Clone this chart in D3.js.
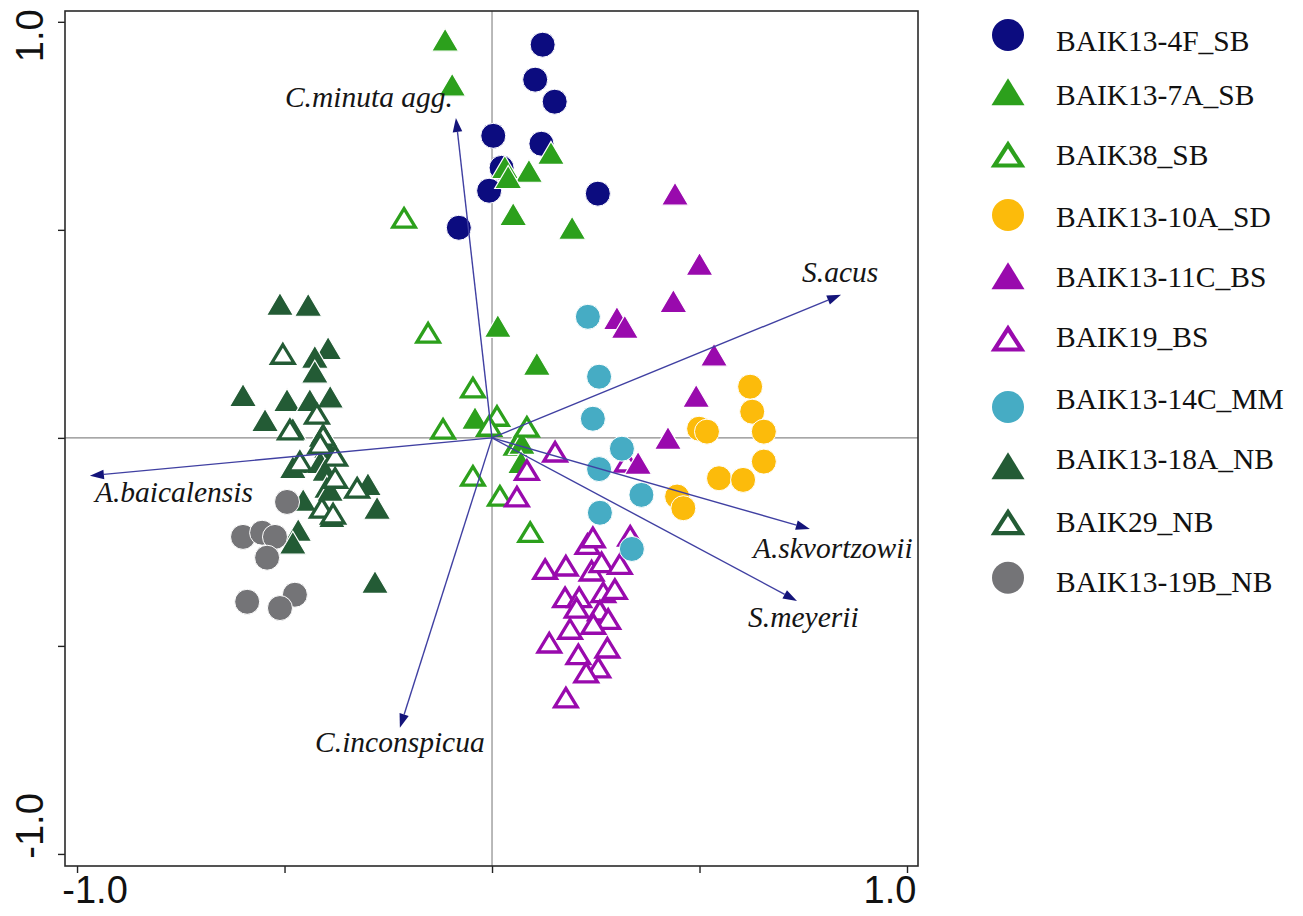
<!DOCTYPE html>
<html>
<head>
<meta charset="utf-8">
<script src="https://cdn.jsdelivr.net/npm/d3@7"></script>
<style>
  body { margin: 0; background: #ffffff; }
  svg { display: block; }
</style>
</head>
<body>
<svg id="chart" width="1303" height="916"></svg>
<script>
// ---------------- DATA ----------------
const groupNames = ["BAIK13-4F_SB", "BAIK13-7A_SB", "BAIK38_SB", "BAIK13-10A_SD", "BAIK13-11C_BS",
                    "BAIK19_BS", "BAIK13-14C_MM", "BAIK13-18A_NB", "BAIK29_NB", "BAIK13-19B_NB"];
const groupShapes = ["circle", "triangle", "open", "circle", "triangle",
                     "open", "circle", "triangle", "open", "circle"];
const groupColors = ["#0c0c7f", "#2ca01c", "#2ca01c", "#fcbb0b", "#990aad",
                     "#990aad", "#46acc4", "#235b35", "#235b35", "#747477"];

const sb4F = [[0.122,0.945],[0.104,0.861],[0.151,0.808],[0.003,0.726],[0.119,0.707],[0.023,0.649],
              [-0.007,0.594],[0.255,0.587],[-0.080,0.505]];
const sb7A = [[-0.113,0.957],[-0.096,0.849],[0.142,0.685],[0.031,0.651],[0.089,0.642],[0.039,0.627],
              [0.051,0.538],[0.193,0.505],[0.014,0.269],[0.108,0.178],[-0.041,0.048],[0.055,-0.017],
              [0.072,-0.012],[0.070,-0.058]];
const baik38 = [[-0.212,0.531],[-0.154,0.255],[-0.046,0.123],[0.012,0.055],[-0.007,0.031],[-0.118,0.024],
                [0.084,0.029],[-0.046,-0.089],[0.019,-0.137],[0.092,-0.224]];
const sd10A = [[0.622,0.123],[0.627,0.063],[0.655,0.015],[0.499,0.022],[0.518,0.015],[0.655,-0.057],
               [0.547,-0.097],[0.605,-0.101],[0.446,-0.141],[0.461,-0.169]];
const bs11C = [[0.441,0.587],[0.500,0.418],[0.437,0.329],[0.301,0.288],[0.320,0.267],[0.535,0.200],
               [0.492,0.101],[0.424,0.000],[0.352,-0.060]];
const baik19 = [[0.152,-0.031],[0.084,-0.075],[0.060,-0.139],[0.325,-0.055],[0.230,-0.253],[0.243,-0.237],
                [0.333,-0.233],[0.128,-0.313],[0.178,-0.305],[0.240,-0.317],[0.264,-0.297],[0.308,-0.301],
                [0.176,-0.381],[0.210,-0.381],[0.268,-0.369],[0.296,-0.361],[0.204,-0.406],[0.260,-0.413],
                [0.280,-0.433],[0.244,-0.445],[0.188,-0.457],[0.138,-0.490],[0.278,-0.502],[0.208,-0.518],
                [0.256,-0.550],[0.227,-0.562],[0.178,-0.622]];
const mm14C = [[0.231,0.291],[0.258,0.147],[0.243,0.046],[0.313,-0.026],[0.258,-0.075],[0.360,-0.137],
               [0.260,-0.180],[0.337,-0.267]];
const nb18A = [[-0.511,0.322],[-0.443,0.320],[-0.395,0.216],[-0.427,0.195],[-0.427,0.159],[-0.600,0.103],
               [-0.494,0.091],[-0.439,0.091],[-0.390,0.099],[-0.547,0.043],[-0.480,0.022],[-0.407,0.012],
               [-0.398,-0.022],[-0.463,-0.058],[-0.480,-0.070],[-0.414,-0.058],[-0.402,-0.077],[-0.398,-0.118],
               [-0.390,-0.125],[-0.299,-0.111],[-0.277,-0.168],[-0.455,-0.149],[-0.386,-0.188],[-0.467,-0.221],
               [-0.480,-0.252],[-0.282,-0.346]];
const baik29 = [[-0.504,0.204],[-0.422,0.060],[-0.487,0.022],[-0.407,0.007],[-0.414,-0.012],[-0.378,-0.041],
                [-0.463,-0.055],[-0.378,-0.094],[-0.325,-0.118],[-0.410,-0.166],[-0.383,-0.180]];
const nb19B = [[-0.494,-0.154],[-0.600,-0.238],[-0.554,-0.228],[-0.523,-0.238],[-0.542,-0.288],[-0.590,-0.394],
               [-0.475,-0.377],[-0.511,-0.409]];
const groupData = [sb4F, sb7A, baik38, sd10A, bs11C, baik19, mm14C, nb18A, baik29, nb19B];

const speciesNames = ["C.minuta agg.", "S.acus", "A.baicalensis", "A.skvortzowii", "S.meyerii", "C.inconspicua"];
const speciesX = [-0.087, 0.841, -0.969, 0.766, 0.735, -0.222];
const speciesY = [0.769, 0.344, -0.091, -0.219, -0.392, -0.697];

const xTickValues = [-1, -0.5, 0, 0.5, 1];
const yTickValues = [-1, -0.5, 0, 0.5, 1];
const xTickLabels = ["-1.0", "", "", "", "1.0"];
const yTickLabels = ["-1.0", "", "", "", "1.0"];

// ---------------- LAYOUT ----------------
const drawOrder = [0, 1, 2, 5, 4, 6, 3, 7, 8, 9];
const labelLayout = [ // dx, dy, anchor relative to arrow tip
  {dx: -3, dy: -11, anchor: "end"},
  {dx: -39, dy: -13, anchor: "start"},
  {dx: 5, dy: 26, anchor: "start"},
  {dx: -57, dy: 29, anchor: "start"},
  {dx: -49, dy: 26, anchor: "start"},
  {dx: 0, dy: 24, anchor: "middle"}
];
const legendTextY = [41, 94.7, 155, 216.7, 277, 337, 399, 459, 522, 581.7];
const legendMarkY = [35, 91.7, 154, 215, 275.7, 338, 407, 465.7, 521.7, 577.7];

const svg = d3.select("#chart");
const x = d3.scaleLinear().domain([-1.029, 1.0265]).range([65, 918]);
const y = d3.scaleLinear().domain([-1.029, 1.026]).range([866, 11]);

// zero lines
svg.append("line").attr("x1", x(0)).attr("x2", x(0)).attr("y1", y.range()[1]).attr("y2", y.range()[0])
  .attr("stroke", "#8a8a8a").attr("stroke-width", 1.2);
svg.append("line").attr("x1", x.range()[0]).attr("x2", x.range()[1]).attr("y1", y(0)).attr("y2", y(0))
  .attr("stroke", "#8a8a8a").attr("stroke-width", 1.2);

// axes (ticks only)
const xAxis = svg.append("g").attr("transform", `translate(0,${y.range()[0]})`)
  .call(d3.axisBottom(x).tickValues(xTickValues).tickSize(7).tickFormat(""));
const yAxis = svg.append("g").attr("transform", `translate(${x.range()[0]},0)`)
  .call(d3.axisLeft(y).tickValues(yTickValues).tickSize(7).tickFormat(""));
[xAxis, yAxis].forEach(a => {
  a.select(".domain").remove();
  a.selectAll(".tick line").attr("stroke", "#222").attr("stroke-width", 1.4);
});

// tick labels
const tickFont = "'Liberation Sans', Arial, sans-serif";
xTickValues.forEach((v, i) => {
  if (!xTickLabels[i]) return;
  const shift = v < 0 ? 18 : -17;
  svg.append("text").attr("x", x(v) + shift).attr("y", 903)
    .attr("text-anchor", "middle").attr("font-family", tickFont).attr("font-size", 38)
    .attr("fill", "#111").text(xTickLabels[i]);
});
yTickValues.forEach((v, i) => {
  if (!yTickLabels[i]) return;
  const shift = v < 0 ? -28 : 14;
  svg.append("text").attr("transform", `translate(43,${y(v) + shift}) rotate(-90)`)
    .attr("text-anchor", "middle").attr("font-family", tickFont).attr("font-size", 38)
    .attr("fill", "#111").text(yTickLabels[i]);
});

// markers
function triPath(w, h) {
  return `M0,${-h / 2}L${w / 2},${h / 2}L${-w / 2},${h / 2}Z`;
}
function drawMarker(g, shape, color, cx, cy) {
  if (shape === "circle") {
    g.append("circle").attr("cx", cx).attr("cy", cy).attr("r", 12.5)
      .attr("fill", color).attr("stroke", "#ffffff").attr("stroke-width", 1);
  } else if (shape === "triangle") {
    g.append("path").attr("transform", `translate(${cx},${cy})`).attr("d", triPath(27, 23))
      .attr("fill", color).attr("stroke", "#ffffff").attr("stroke-width", 1.2);
  } else {
    g.append("path").attr("transform", `translate(${cx},${cy + 1})`).attr("d", triPath(22.5, 18.5))
      .attr("fill", "#ffffff").attr("stroke", color).attr("stroke-width", 3.3)
      .attr("stroke-linejoin", "miter");
  }
}

const pts = svg.append("g");
drawOrder.forEach(gi => {
  groupData[gi].forEach(d => drawMarker(pts, groupShapes[gi], groupColors[gi], x(d[0]), y(d[1])));
});

// species arrows
const arrowG = svg.append("g");
speciesNames.forEach((name, i) => {
  const x0 = x(0), y0 = y(0), x1 = x(speciesX[i]), y1 = y(speciesY[i]);
  const ang = Math.atan2(y1 - y0, x1 - x0);
  const hl = 14, hw = 4.8;
  const bx = x1 - hl * Math.cos(ang), by = y1 - hl * Math.sin(ang);
  arrowG.append("line").attr("x1", x0).attr("y1", y0).attr("x2", bx).attr("y2", by)
    .attr("stroke", "#4040a2").attr("stroke-width", 1.4);
  const px = -Math.sin(ang), py = Math.cos(ang);
  arrowG.append("path")
    .attr("d", `M${x1},${y1}L${bx + hw * px},${by + hw * py}L${bx - hw * px},${by - hw * py}Z`)
    .attr("fill", "#14147a");
  const L = labelLayout[i];
  arrowG.append("text").attr("x", x1 + L.dx).attr("y", y1 + L.dy)
    .attr("text-anchor", L.anchor).attr("font-family", "'Liberation Serif', 'Times New Roman', serif")
    .attr("font-style", "italic").attr("font-size", 29.5).attr("fill", "#151515").text(name);
});

// frame
svg.append("rect").attr("x", x.range()[0]).attr("y", y.range()[1])
  .attr("width", x.range()[1] - x.range()[0]).attr("height", y.range()[0] - y.range()[1])
  .attr("fill", "none").attr("stroke", "#2a2a2a").attr("stroke-width", 1.6);

// legend
const leg = svg.append("g");
groupNames.forEach((name, i) => {
  const shape = groupShapes[i];
  if (shape === "circle") {
    leg.append("circle").attr("cx", 1008).attr("cy", legendMarkY[i]).attr("r", 16)
      .attr("fill", groupColors[i]);
  } else if (shape === "triangle") {
    leg.append("path").attr("transform", `translate(1008,${legendMarkY[i]})`).attr("d", triPath(33, 27))
      .attr("fill", groupColors[i]);
  } else {
    leg.append("path").attr("transform", `translate(1008,${legendMarkY[i] + 1})`).attr("d", triPath(27, 21))
      .attr("fill", "#ffffff").attr("stroke", groupColors[i]).attr("stroke-width", 4.2);
  }
  leg.append("text").attr("x", 1056).attr("y", legendTextY[i]).attr("dy", "0.34em")
    .attr("font-family", "'Liberation Serif', 'Times New Roman', serif").attr("font-size", 29.5)
    .attr("fill", "#111").text(name);
});
</script>
</body>
</html>
